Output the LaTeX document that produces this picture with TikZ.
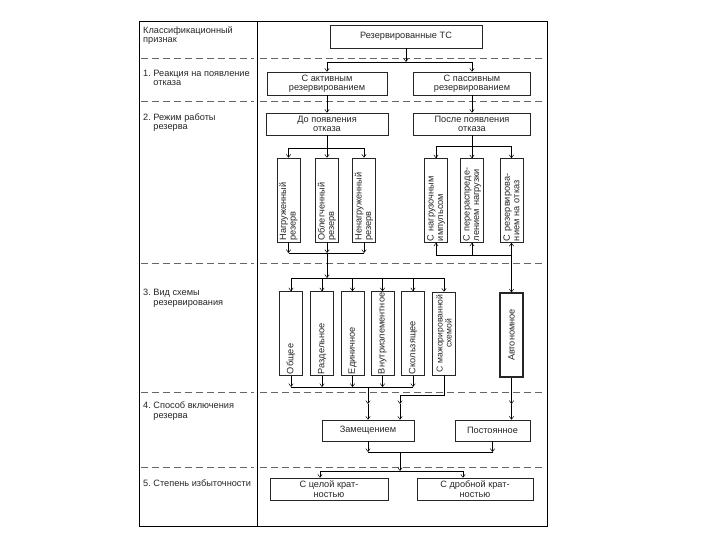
\documentclass[tikz,border=0pt]{standalone}
\usepackage{fontspec}
\setmainfont{Liberation Sans}
\usetikzlibrary{positioning,calc,arrows.meta}
\tikzset{box0/.style={draw=black!85, line width=0.6pt, inner sep=1pt, align=center}}
\tikzset{vbox0/.style={draw=black!85, line width=0.6pt, rotate=90, minimum width=84, minimum height=23, inner xsep=1.5pt, inner ysep=1pt, text width=81pt, align=left}}
\tikzset{lbl/.style={anchor=base west, inner sep=0pt, align=left}}
\tikzset{dline/.style={draw=black!60, dashed, dash pattern=on 7pt off 4pt, line width=0.6pt}}
\tikzset{arr1/.style={draw, ->, line width=0.5pt}}
\tikzset{line0/.style={draw, line width=0.5pt}}

\begin{document}
\begin{tikzpicture}[x=1pt, y=-1pt, >={Straight Barb[length=3pt,width=4.5pt]},
    every node/.style={font=\fontsize{9.2}{9.5}\selectfont, text=black!85}]
\useasboundingbox (0,0) rectangle (720,540);
% frame and rows
\draw[line width=0.8pt] (139,21) rectangle (547,526);
\draw[line width=0.8pt] (257,21) -- (257,526);
\foreach \yy in {58,101,263,392,467} {
    \draw[dline] (141,\yy) -- (254,\yy);
    \draw[dline] (260,\yy) -- (545,\yy);
}
%
\node[lbl] (L0) at (143,43) {Классификационный\\признак};
\node[lbl] (L1) at (143,86) {1.~Реакция на появление\\\phantom{1.~}отказа};
\node[lbl] (L2) at (143,130) {2.~Режим работы\\\phantom{2.~}резерва};
\node[lbl] (L3) at (143,305) {3.~Вид схемы\\\phantom{3.~}резервирования};
\node[lbl] (L4) at (143,418) {4.~Способ включения\\\phantom{4.~}резерва};
\node[lbl] (L5) at (143,486) {5.~Степень избыточности};
%
\node[box0, minimum width=152, minimum height=23] (T) at (406,36.5) {Резервированные ТС};
\node[box0, minimum width=120, minimum height=23] (A1) at (327,83.5) {С активным\\резервированием};
\node[box0, minimum width=117, minimum height=23] (A2) at (472,83.5) {С пассивным\\резервированием};
\node[box0, minimum width=122, minimum height=22] (B1) at (327,124) {До появления\\отказа};
\node[box0, minimum width=117, minimum height=22] (B2) at (472,124) {После появления\\отказа};
%
\node[vbox0] (N1) at (288.5,200) {Нагруженный\\резерв};
\node[vbox0] (N2) at (327,200) {Облегченный\\резерв};
\node[vbox0] (N3) at (364,200) {Ненагруженный\\резерв};
\node[vbox0] (M1) at (436,200.5) {С нагрузочным\\импульсом};
\node[vbox0] (M2) at (472,200.5) {С перераспреде-\\лением нагрузки};
\node[vbox0] (M3) at (511.5,200.5) {С резервирова-\\нием на отказ};
%
\node[vbox0, minimum width=83] (S1) at (291,333.5) {Общее};
\node[vbox0, minimum width=83] (S2) at (322,333.5) {Раздельное};
\node[vbox0, minimum width=83] (S3) at (352.5,333.5) {Единичное};
\node[vbox0, minimum width=83] (S4) at (382.5,333.5) {Внутриэлементное};
\node[vbox0, minimum width=83] (S5) at (413,333.5) {Скользящее};
\node[vbox0, minimum width=83, inner xsep=0pt, text width=83pt, align=center,
    font=\fontsize{8.6}{9}\selectfont] (S6) at (444,333.5) {\mbox{С мажорированной}\\схемой};
\node[vbox0, line width=1.1pt, align=center] (Av) at (511.5,335) {Автономное};
%
\node[box0, minimum width=92, minimum height=21] (Z) at (368,430.5) {Замещением};
\node[box0, minimum width=75, minimum height=21] (P) at (492.5,430.5) {Постоянное};
\node[box0, minimum width=118, minimum height=22] (C1) at (329,489) {С целой крат-\\ностью};
\node[box0, minimum width=116, minimum height=22] (C2) at (475,489) {С дробной крат-\\ностью};
% junctions
\coordinate (j0) at (406,62);
\coordinate (j1) at (327,148);
\coordinate (j2) at (327,253);
\coordinate (j3) at (327,278);
\coordinate (k1) at (472,146);
\coordinate (k2) at (511.5,255);
\coordinate (j4) at (368,387);
\coordinate (j5) at (368,404);
\coordinate (s6b) at (444,395);
\coordinate (j7) at (400,404);
\coordinate (q1) at (511.5,404);
\coordinate (j8) at (400,452);
\coordinate (j9) at (400,471);
\coordinate (c1) at (320,471);
\coordinate (c2) at (463,471);
%
\draw[arr1] (T) -- (j0);
\draw[arr1] (j0) -| (A1);
\draw[arr1] (j0) -| (A2);
\draw[arr1] (A1) -- (B1);
\draw[arr1] (A2) -- (B2);
%
\draw[arr1] (B1) -- (N2);
\draw[arr1] (j1) -| (N1);
\draw[arr1] (j1) -| (N3);
\draw[arr1] (N1) -- (N1 |- j2);
\draw[arr1] (N3) -- (N3 |- j2);
\draw[arr1] (N2) -- (j2);
\draw[line0] (N1 |- j2) -- (N3 |- j2);
\draw[arr1] (j2) -- (j3);
%
\draw[line0] (B2) -- (k1);
\draw[arr1] (k1) -| (M1);
\draw[arr1] (k1) -- (M2);
\draw[arr1] (k1) -| (M3);
\draw[line0] (M1 |- k2) -- (k2);
\draw[arr1] (M1 |- k2) -- (M1);
\draw[arr1] (M2 |- k2) -- (M2);
\draw[arr1] (k2) -- (M3);
\draw[arr1] (k2) -- (Av);
%
\foreach \s in {S1,S2,S3,S4,S5,S6}
    \draw[arr1] (j3) -| (\s);
\foreach \s in {S1,S2,S3,S4,S5}
    \draw[arr1] (\s) -- (\s |- j4);
\draw[line0] (S1 |- j4) -- (S5 |- j4);
\draw[arr1] (j4) -- (j5);
\draw[arr1] (j5) -- (Z.north -| j5);
\draw[arr1] (S6) -- (s6b) -| (j7);
\draw[arr1] (j7) -- (Z.north -| j7);
\draw[arr1] (Av) -- (q1);
\draw[arr1] (q1) -- (P.north -| q1);
%
\draw[arr1] (Z) -- (Z.south |- j8);
\draw[arr1] (P) -- (P.south |- j8);
\draw[line0] (Z.south |- j8) -- (P.south |- j8);
\draw[arr1] (j8) -- (j9);
\draw[line0] (c1) -- (c2);
\draw[arr1] (c1) -- (C1.north -| c1);
\draw[arr1] (c2) -- (C2.north -| c2);
\end{tikzpicture}
\end{document}
